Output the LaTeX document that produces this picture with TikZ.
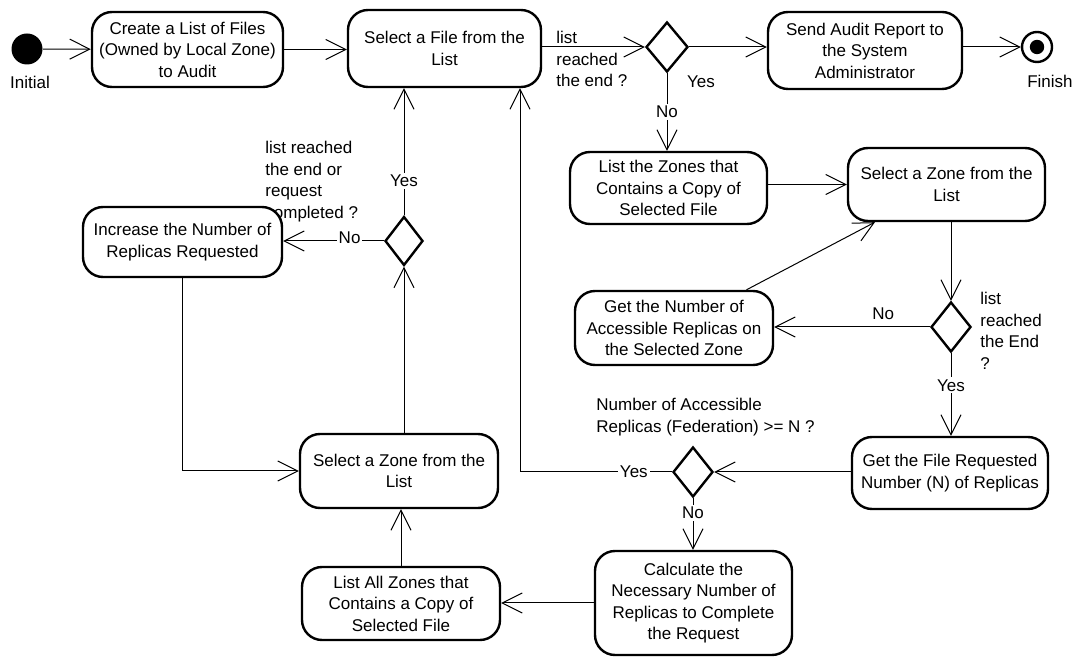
\documentclass[tikz,border=0pt]{standalone}
\usepackage{fontspec}
\setmainfont{Liberation Sans}
\usetikzlibrary{shapes.geometric,arrows.meta}

\begin{document}
\begin{tikzpicture}[x=0.5pt,y=-0.5pt,
        font=\fontsize{8.5}{10.75}\selectfont,
        act/.style={draw,fill=white,line width=1.2pt,rounded corners=10pt,align=center,inner sep=1pt},
        dec/.style={draw,fill=white,diamond,line width=1.2pt,inner sep=0pt,minimum width=20pt,minimum height=25pt},
        flow/.style={line width=0.5pt,-{Straight Barb[length=10pt,width=10pt]}},
        lbl/.style={align=left,anchor=north west,inner sep=0pt},
        cut/.style={fill=white,inner sep=1pt}]
        \useasboundingbox (0,0) rectangle (1077,657);
        % questions at the decisions
        \node[lbl] (q1) at (556,31) {list\\reached\\the end ?};
        \node[lbl] (q4) at (265,141) {list reached\\the end or\\request\\completed ?};
        \node[lbl] (q2) at (980,292) {list\\reached\\the End\\?};
        \node[lbl] (q3) at (596,398) {Number of Accessible\\Replicas (Federation) >= N ?};
        % start and end
        \node[circle,fill,minimum size=15.5pt,inner sep=0pt] (init) at (27,49) {};
        \node (initlbl) at (30,82) {Initial};
        \node[circle,draw,line width=1.2pt,minimum size=15pt,inner sep=0pt] (final) at (1037,47) {};
        \fill (final.center) circle (3.6pt);
        \node (finlbl) at (1050,81) {Finish};
        % activities
        \node[act,minimum width=95.5pt,minimum height=37.5pt] (create) at (187.5,49.5) {Create a List of Files\\(Owned by Local Zone)\\to Audit};
        \node[act,minimum width=96.5pt,minimum height=38.5pt] (selfile) at (444.5,48.5) {Select a File from the\\List};
        \node[act,minimum width=97pt,minimum height=38.5pt] (report) at (865,50.5) {Send Audit Report to\\the System\\Administrator};
        \node[act,minimum width=98.5pt,minimum height=36pt] (listzones) at (668.5,188) {List the Zones that\\Contains a Copy of\\Selected File};
        \node[act,minimum width=98.5pt,minimum height=36.5pt] (selzone) at (946.5,184.5) {Select a Zone from the\\List};
        \node[act,minimum width=99pt,minimum height=37pt] (getnum) at (674,328) {Get the Number of\\Accessible Replicas on\\the Selected Zone};
        \node[act,minimum width=98pt,minimum height=36pt] (getreq) at (950,473) {Get the File Requested\\Number (N) of Replicas};
        \node[act,minimum width=98.5pt,minimum height=52pt] (calc) at (693.5,603) {Calculate the\\Necessary Number of\\Replicas to Complete\\the Request};
        \node[act,minimum width=99pt,minimum height=36.5pt] (listall) at (401,603.5) {List All Zones that\\Contains a Copy of\\Selected File};
        \node[act,minimum width=99pt,minimum height=37pt] (selzone2) at (399,471) {Select a Zone from the\\List};
        \node[act,minimum width=99.5pt,minimum height=35pt] (incr) at (182.5,242) {Increase the Number of\\Replicas Requested};
        % decisions
        \node[dec,minimum width=21pt] (dec1) at (667,47) {};
        \node[dec] (dec2) at (951,327) {};
        \node[dec] (dec3) at (693,472) {};
        \node[dec,minimum width=19pt,minimum height=24.5pt] (dec4) at (404,241) {};
        \node (yes1) at (701,82) {Yes};
        \coordinate (back) at (520,472);
        % flows
        \draw[flow] (init) -- (create);
        \draw[flow] (create.east) -- (create.east -| selfile.west);
        \draw[flow] (selfile.east |- dec1) -- (dec1.west);
        \draw[flow] (dec1.east) -- (dec1.east -| report.west);
        \draw[flow] (report.east |- final) -- (final.west);
        \draw[flow] (dec1.south) -- node[cut]{No} (dec1.south |- listzones.north);
        \draw[flow] (listzones.east |- selzone) -- (selzone.west);
        \draw[flow] (selzone.south -| dec2) -- (dec2.north);
        \draw[flow] (dec2.west) -- node[above,pos=0.3]{No} (dec2.west -| getnum.east);
        \draw[flow] (getnum) -- (selzone);
        \draw[flow] (dec2.south) -- node[cut,pos=0.39]{Yes} (dec2.south |- getreq.north);
        \draw[flow] (getreq.west |- dec3) -- (dec3.east);
        \draw[flow] (dec3.west) -- node[cut,pos=0.25]{Yes} (back) -- (back |- selfile.south);
        \draw[flow] (dec3.south) -- node[cut,pos=0.28]{No} (dec3.south |- calc.north);
        \draw[flow] (calc.west) -- (calc.west -| listall.east);
        \draw[flow] (listall.north) -- (listall.north |- selzone2.south);
        \draw[flow] (selzone2.north -| dec4) -- (dec4.south);
        \draw[flow] (dec4.north) -- node[cut,pos=0.27]{Yes} (dec4.north |- selfile.south);
        \draw[flow] (dec4.west) -- node[cut,pos=0.34,yshift=1.5pt]{No} (dec4.west -| incr.east);
        \draw[flow] (incr.south) |- (selzone2.west);
\end{tikzpicture}
\end{document}
